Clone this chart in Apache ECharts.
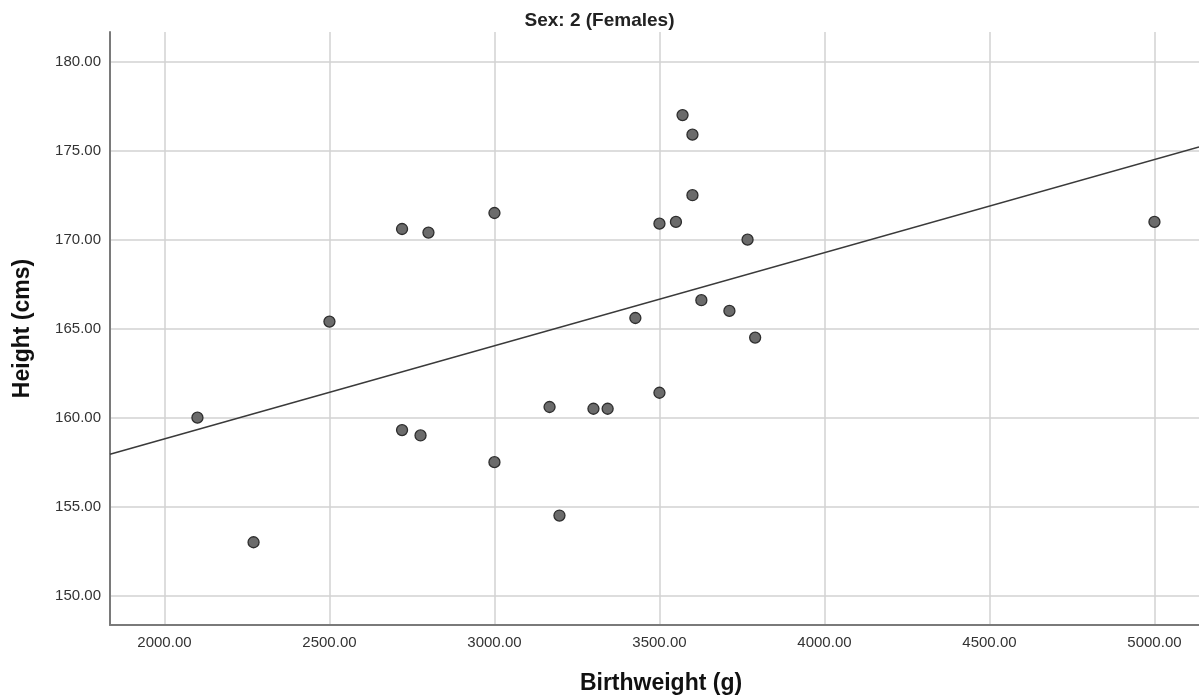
<!DOCTYPE html>
<html>
<head>
<meta charset="utf-8">
<title>Birthweight vs Height — Females</title>
<script src="https://cdn.jsdelivr.net/npm/echarts@6/dist/echarts.min.js"></script>
<style>
  html, body { margin: 0; padding: 0; background: #ffffff; }
  #chart { width: 1199px; height: 700px; }
</style>
</head>
<body>
<div id="chart"></div>
<script>
// Birthweight (g) and adult height (cms) for each female participant
const birthweight = [2100, 2270, 2500, 2720, 2800, 2720, 2776, 3000, 3000, 3167, 3197, 3300, 3343,
                     3427, 3500, 3500, 3550, 3570, 3600, 3600, 3627, 3712, 3767, 3790, 5000];
const height      = [160.0, 153.0, 165.4, 170.6, 170.4, 159.3, 159.0, 171.5, 157.5, 160.6, 154.5, 160.5, 160.5,
                     165.6, 161.4, 170.9, 171.0, 177.0, 175.9, 172.5, 166.6, 166.0, 170.0, 164.5, 171.0];

const xTicks = [2000, 2500, 3000, 3500, 4000, 4500, 5000];
const yTicks = [150, 155, 160, 165, 170, 175, 180];

const xRange = [1835, 5135];
const yRange = [148.35, 181.67];

// Least-squares fit line for the whole group
function linearFit(xs, ys) {
  const n = xs.length;
  const mx = xs.reduce((a, b) => a + b, 0) / n;
  const my = ys.reduce((a, b) => a + b, 0) / n;
  let sxy = 0, sxx = 0;
  for (let i = 0; i < n; i++) {
    sxy += (xs[i] - mx) * (ys[i] - my);
    sxx += (xs[i] - mx) * (xs[i] - mx);
  }
  const slope = sxy / sxx;
  return { slope, intercept: my - slope * mx };
}
const fit = linearFit(birthweight, height);
const fitLine = xRange.map(x => [x, fit.intercept + fit.slope * x]);
const points = birthweight.map((x, i) => [x, height[i]]);

const fmt = v => Number(v).toFixed(2);
const font = '"Liberation Sans", Arial, sans-serif';

const chart = echarts.init(document.getElementById('chart'), null, { renderer: 'canvas' });
chart.setOption({
  animation: false,
  backgroundColor: '#ffffff',
  title: {
    text: 'Sex: 2 (Females)',
    left: 'center',
    top: 6,
    textStyle: { fontFamily: font, fontSize: 19, fontWeight: 'bold', color: '#222' }
  },
  grid: { left: 110, right: 0, top: 32, bottom: 75, containLabel: false },
  xAxis: {
    type: 'value',
    min: xRange[0],
    max: xRange[1],
    name: 'Birthweight (g)',
    nameLocation: 'middle',
    nameGap: 47,
    nameTextStyle: { fontFamily: font, fontSize: 23, fontWeight: 'bold', color: '#111', padding: [0, 0, 0, 13] },
    axisLine: { show: true, onZero: false, lineStyle: { color: '#7a7a7a', width: 2 } },
    axisTick: { show: false, customValues: xTicks },
    axisLabel: {
      customValues: xTicks,
      formatter: fmt,
      margin: 10,
      fontFamily: font, fontSize: 15, color: '#333'
    },
    splitLine: { show: true, lineStyle: { color: '#d2d2d2', width: 1.5 } }
  },
  yAxis: {
    type: 'value',
    min: yRange[0],
    max: yRange[1],
    name: 'Height (cms)',
    nameLocation: 'middle',
    nameGap: 76,
    nameTextStyle: { fontFamily: font, fontSize: 23, fontWeight: 'bold', color: '#111' },
    axisLine: { show: true, onZero: false, lineStyle: { color: '#7a7a7a', width: 2 } },
    axisTick: { show: false, customValues: yTicks },
    axisLabel: {
      customValues: yTicks,
      formatter: fmt,
      margin: 9,
      fontFamily: font, fontSize: 15, color: '#333'
    },
    splitLine: { show: true, lineStyle: { color: '#d2d2d2', width: 1.5 } }
  },
  series: [
    {
      name: 'Fit line',
      type: 'line',
      data: fitLine,
      showSymbol: false,
      clip: true,
      lineStyle: { color: '#3a3a3a', width: 1.5 },
      silent: true,
      z: 2
    },
    {
      name: 'Females',
      type: 'scatter',
      data: points,
      symbol: 'circle',
      symbolSize: 11,
      itemStyle: { color: '#6b6b6b', borderColor: '#2e2e2e', borderWidth: 1.3, opacity: 1 },
      z: 3
    }
  ]
});
</script>
</body>
</html>
